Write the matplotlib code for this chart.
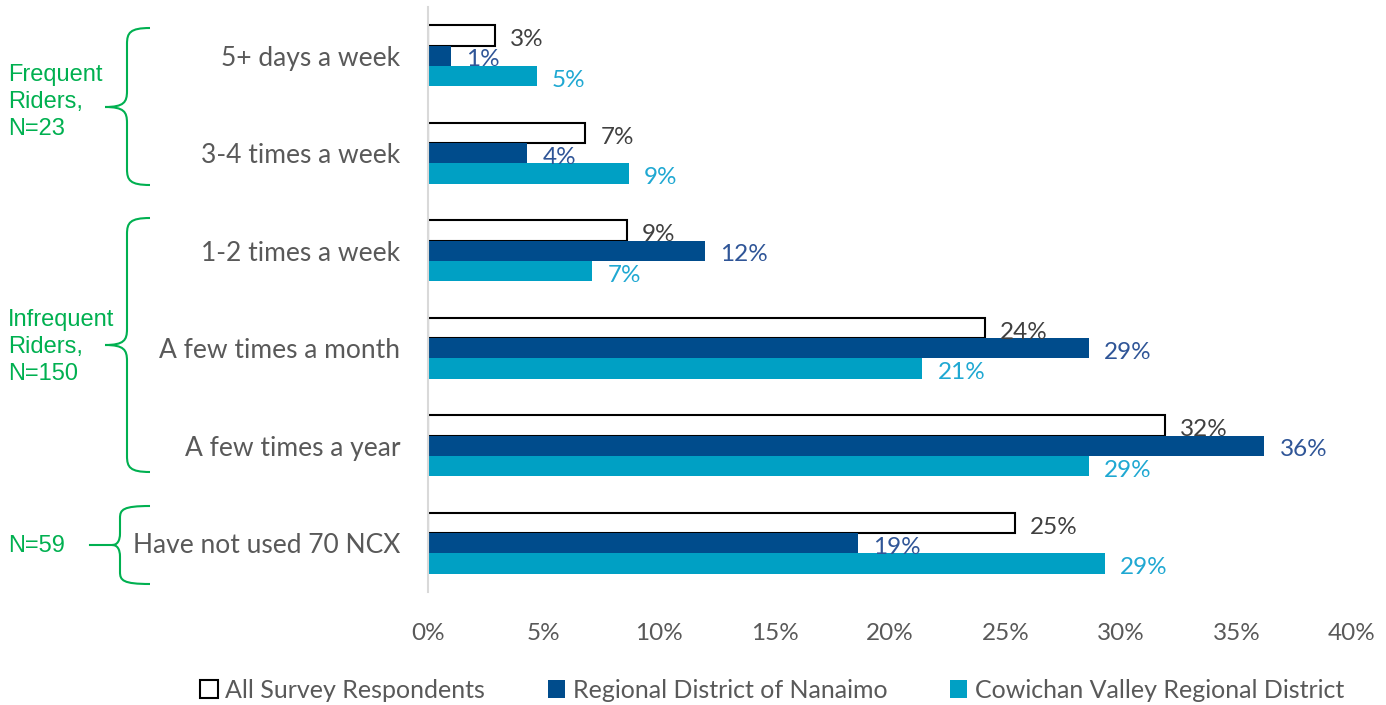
import numpy as np
import matplotlib
matplotlib.use('Agg')
import matplotlib.pyplot as plt
from matplotlib.path import Path
from matplotlib.patches import PathPatch, Patch
from matplotlib.lines import Line2D

# data
categories = ['5+ days a week', '3-4 times a week', '1-2 times a week',
              'A few times a month', 'A few times a year', 'Have not used 70 NCX']
all_resp = [2.9, 6.8, 8.6, 24.1, 31.9, 25.4]
nanaimo = [1.0, 4.3, 12.0, 28.6, 36.2, 18.6]
cowichan = [4.7, 8.7, 7.1, 21.4, 28.6, 29.3]
series_names = ['All Survey Respondents', 'Regional District of Nanaimo',
                'Cowichan Valley Regional District']
xticks = [0, 5, 10, 15, 20, 25, 30, 35, 40]
groups = ['Frequent\nRiders,\nN=23', 'Infrequent\nRiders,\nN=150', 'N=59']

W, H = 1386, 705
GRAY = '#595959'
DARK = '#004C8C'
LIGHT = '#00A0C4'
GREEN = '#00B050'

plt.rcParams['font.family'] = ['Lato', 'DejaVu Sans']

fig = plt.figure(figsize=(W / 100, H / 100), dpi=100)
ax = fig.add_axes([428 / W, 1 - 592 / H, (1352 - 428) / W, (592 - 7) / H])

y = np.arange(len(categories))
h = 0.208
ax.barh(y - h, all_resp, h, color='white', edgecolor='black', linewidth=1.5)
ax.barh(y, nanaimo, h, color=DARK)
ax.barh(y + h, cowichan, h, color=LIGHT)

# value labels
for vals, off, col in [(all_resp, -h, '#404040'), (nanaimo, 0, '#2F5597'),
                       (cowichan, h, '#1FA8D2')]:
    for i, v in enumerate(vals):
        ax.annotate('%.0f%%' % v, (v, y[i] + off), xytext=(11, -3),
                    textcoords='offset points', va='center', ha='left',
                    fontsize=17.5, color=col)

ax.set_xlim(0, 40)
ax.set_ylim(len(categories) - 0.5, -0.5)
ax.set_yticks(y)
ax.set_yticklabels(categories)
ax.set_xticks(xticks)
ax.set_xticklabels(['%d%%' % t for t in xticks])
ax.tick_params(axis='y', length=0, pad=20, labelsize=19, labelcolor=GRAY)
ax.tick_params(axis='x', length=0, pad=22, labelsize=17.5, labelcolor=GRAY)
for s in ['top', 'right', 'bottom']:
    ax.spines[s].set_visible(False)
ax.spines['left'].set_color('#D9D9D9')
ax.spines['left'].set_linewidth(1.5)


# curly braces drawn in pixel coordinates (y from top)
def brace(y0, y1, ym, xt, xs, xe, r=16):
    pts = [(xe, y0), (xs + 3, y0), (xs, y0 + r * 0.3), (xs, y0 + r),
           (xs, ym - r), (xs, ym - r * 0.3), (xs - 3, ym), (xt, ym),
           (xs - 3, ym), (xs, ym + r * 0.3), (xs, ym + r),
           (xs, y1 - r), (xs, y1 - r * 0.3), (xs + 3, y1), (xe, y1)]
    codes = [Path.MOVETO, Path.CURVE4, Path.CURVE4, Path.CURVE4,
             Path.LINETO, Path.CURVE4, Path.CURVE4, Path.CURVE4,
             Path.CURVE4, Path.CURVE4, Path.CURVE4,
             Path.LINETO, Path.CURVE4, Path.CURVE4, Path.CURVE4]
    verts = [(px / W, 1 - py / H) for px, py in pts]
    fig.patches.append(PathPatch(Path(verts, codes), transform=fig.transFigure,
                                 fill=False, edgecolor=GREEN, linewidth=1.5))


brace(28, 185, 107, 105, 127, 150)
brace(218, 472, 345, 105, 127, 150)
brace(506, 584, 545, 112, 120, 150, r=12)
fig.lines.append(Line2D([90 / W, 113 / W], [1 - 545 / H, 1 - 545 / H],
                        transform=fig.transFigure, color=GREEN, linewidth=1.5))

for txt, yc in zip(groups, [102, 347, 546]):
    fig.text(8 / W, 1 - yc / H, txt, ha='left', va='center', color=GREEN,
             fontsize=17, family='Liberation Sans', linespacing=1.32)

handles = [Patch(facecolor='white', edgecolor='black', linewidth=1.5),
           Patch(facecolor=DARK), Patch(facecolor=LIGHT)]
leg = fig.legend(handles, series_names, loc='center', ncol=3,
                 bbox_to_anchor=(772 / W, 1 - 690 / H), frameon=False,
                 fontsize=18, handlelength=0.7, handleheight=0.7,
                 handletextpad=0.3, columnspacing=2.5)
for t in leg.get_texts():
    t.set_color(GRAY)

fig.savefig('out.png', dpi=100)
